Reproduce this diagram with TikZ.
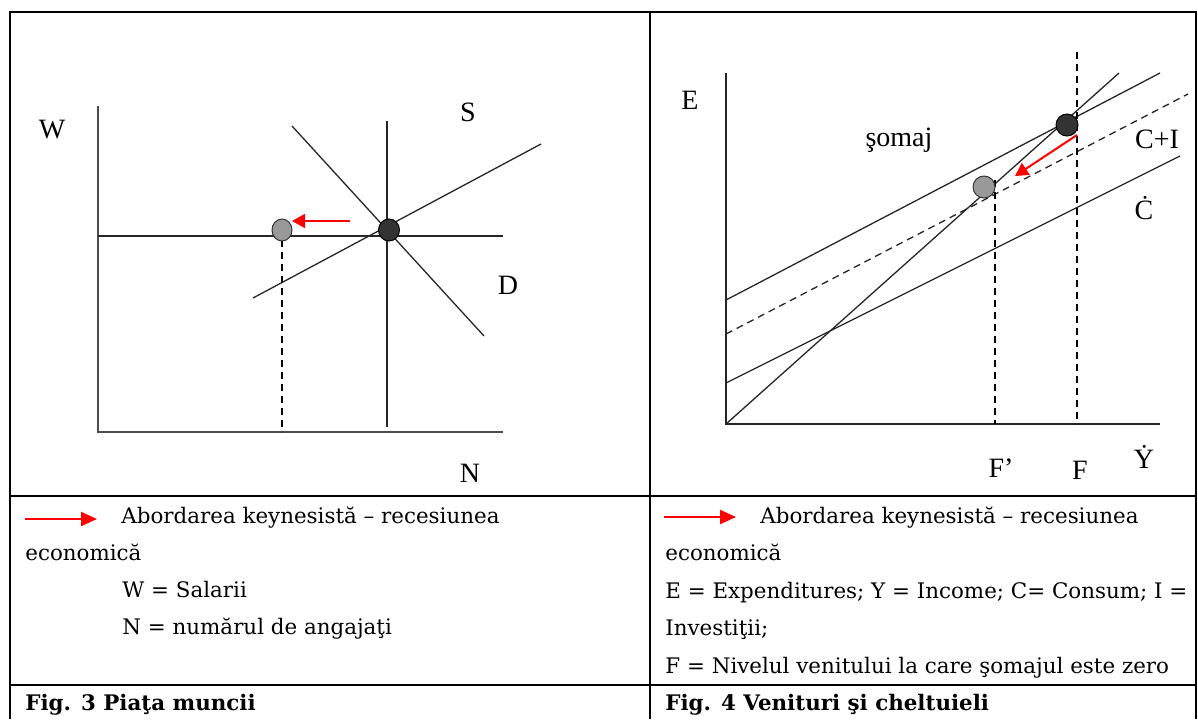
\documentclass[tikz,border=0pt]{standalone}
\usepackage{fontspec}
\setmainfont{Liberation Serif}
\newfontfamily\capfont{DejaVu Serif}
\usetikzlibrary{arrows.meta,shapes.geometric}

\begin{document}
\begin{tikzpicture}[x=0.5pt,y=-0.5pt,
  frame/.style={line width=1pt},
  axis/.style={black!70,line width=0.7pt},
  curve/.style={black!85,line width=0.65pt},
  guide/.style={line width=0.65pt,dash pattern=on 3.5pt off 2.5pt},
  shiftarrow/.style={red,line width=1pt,-{Triangle[length=6.5pt,width=7pt]}},
  legendarrow/.style={red,line width=1.1pt,-{Triangle[length=8pt,width=7pt]}},
  dotdark/.style={ellipse,draw=black,fill=black!80,line width=0.5pt,inner sep=0pt},
  dotlight/.style={ellipse,draw=black!80,fill=black!40,line width=0.5pt,inner sep=0pt},
  lbl/.style={font=\fontsize{14}{16}\selectfont,inner sep=0pt},
  txt/.style={font=\capfont\fontsize{10.7}{13}\selectfont,anchor=base west,inner sep=0pt},
  figtxt/.style={txt,font=\capfont\bfseries\fontsize{10.7}{13}\selectfont}]
  \useasboundingbox (0,0) rectangle (1198,719);

  % table
  \draw[frame] (10,719) -- (10,12) -- (1196,12) -- (1196,719);
  \draw[frame] (650,12) -- (650,719);
  \foreach \y in {496,685} \draw[frame] (10,\y) -- (1196,\y);

  % Fig. 3: labour market
  \draw[axis] (98,106) -- (98,432) -- (503,432);
  \draw[curve] (98,236) -- (503,236);
  \draw[curve] (387,121) -- (387,427);
  \draw[curve] (253,298) -- (541,144);
  \draw[curve] (292,126) -- (484,336);
  \draw[guide] (282,240) -- (282,432);
  \node[dotdark,minimum width=10.5pt,minimum height=11pt] (eqL) at (389,230) {};
  \node[dotlight,minimum width=10pt,minimum height=11pt] (newL) at (282,230) {};
  \coordinate (pushL) at (350,221);
  \coordinate (tipL) at (292,221);
  \draw[shiftarrow] (pushL) -- (tipL);
  \node[lbl] (W) at (52,130) {W};
  \node[lbl] (S) at (468,112) {S};
  \node[lbl] (D) at (508,285) {D};
  \node[lbl] (N) at (470,473) {N};

  % Fig. 4: income and expenditure
  \draw[curve] (726,73) -- (726,424) -- (1160,424);
  \draw[curve] (726,300) -- (1160,73);
  \draw[curve,guide] (726,334) -- (1188,94);
  \draw[curve] (726,383) -- (1180,156);
  \draw[curve] (726,424) -- (1119,73);
  \draw[guide] (1077,52) -- (1077,424);
  \draw[guide] (995,180) -- (995,424);
  \node[dotdark,minimum size=11pt] (eqR) at (1067,125) {};
  \node[dotlight,minimum size=11pt] (newR) at (984,187) {};
  \coordinate (pushR) at (1077,135);
  \coordinate (tipR) at (1015,176);
  \draw[shiftarrow] (pushR) -- (tipR);
  \node[lbl] (E) at (690,100) {E};
  \node[lbl] (somaj) at (899,140) {şomaj};
  \node[lbl] (CI) at (1157,139) {C+I};
  \node[lbl] (C) at (1144,208) {\.{C}};
  \node[lbl] (Fp) at (1001,468) {F’};
  \node[lbl] (F) at (1080,470) {F};
  \node[lbl] (Y) at (1144,457) {\.{Y}};

  % legend, left column
  \coordinate (legL1) at (25,519);
  \coordinate (legL2) at (97,519);
  \draw[legendarrow] (legL1) -- (legL2);
  \node[txt] (l1) at (121,523) {Abordarea keynesistă – recesiunea};
  \node[txt] (l2) at (25,560) {economică};
  \node[txt] (l3) at (122,597) {W = Salarii};
  \node[txt] (l4) at (122,634) {N = numărul de angajaţi};
  \node[figtxt] (fig3) at (25,710) {Fig. 3 Piaţa muncii};

  % legend, right column
  \coordinate (legR1) at (664,517);
  \coordinate (legR2) at (736,517);
  \draw[legendarrow] (legR1) -- (legR2);
  \node[txt] (r1) at (760,523) {Abordarea keynesistă – recesiunea};
  \node[txt] (r2) at (665,560) {economică};
  \node[txt] (r3) at (665,598) {E = Expenditures; Y = Income; C= Consum; I =};
  \node[txt] (r4) at (665,635) {Investiţii;};
  \node[txt] (r5) at (665,673) {F = Nivelul venitului la care şomajul este zero};
  \node[figtxt] (fig4) at (665,710) {Fig. 4 Venituri şi cheltuieli};
\end{tikzpicture}
\end{document}
